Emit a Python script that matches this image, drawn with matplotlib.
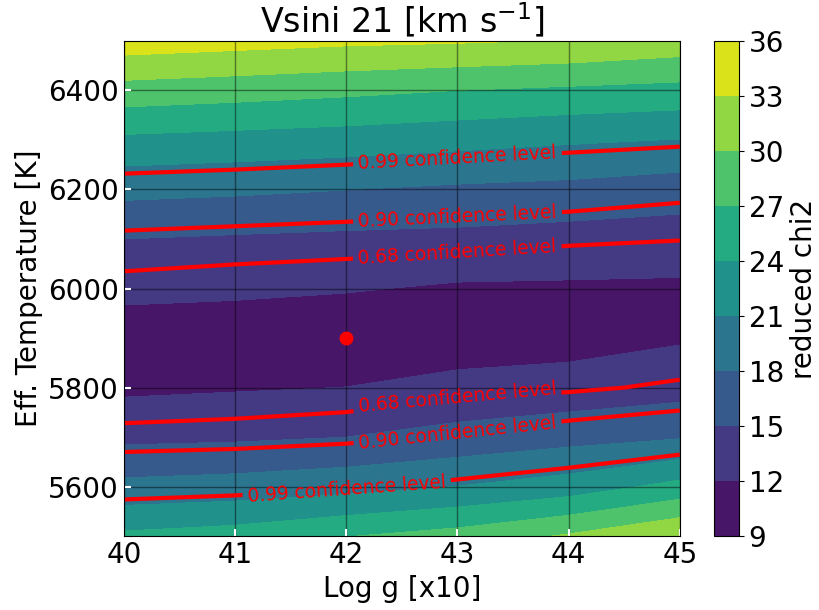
import numpy as np
import matplotlib
matplotlib.use('Agg')
import matplotlib.pyplot as plt

# grid of the fit: log g (x10) columns, effective temperature rows
loggValues = [40, 41, 42, 43, 44, 45]
teffValues = [5500, 5600, 5700, 5800, 5900, 6000, 6100, 6200, 6300, 6400, 6500]

# reduced chi2, one row per temperature
chi2Rows = [
    [24.60, 25.35, 26.90, 28.20, 30.35, 33.00],   # 5500
    [18.80, 19.22, 19.93, 21.05, 22.40, 24.97],   # 5600
    [14.30, 14.53, 15.00, 15.90, 16.89, 17.75],   # 5700
    [11.45, 11.75, 12.03, 12.90, 13.16, 13.84],   # 5800
    [10.60, 10.73, 10.00, 10.40, 10.90, 11.70],   # 5900
    [12.70, 12.40, 12.20, 11.67, 11.62, 11.55],   # 6000
    [15.00, 14.66, 14.38, 14.21, 13.80, 13.56],   # 6100
    [18.85, 18.51, 18.04, 17.52, 17.16, 16.42],   # 6200
    [23.40, 22.98, 22.55, 21.98, 21.39, 20.91],   # 6300
    [28.80, 28.27, 27.66, 27.00, 26.47, 26.00],   # 6400
    [34.70, 34.14, 33.60, 33.30, 32.86, 31.86],   # 6500
]

chi2Levels = [9, 12, 15, 18, 21, 24, 27, 30, 33, 36]
confLevels = [13.5, 15.65, 20.3]
confNames = ['0.68 confidence level', '0.90 confidence level', '0.99 confidence level']

bestLogg = 42
bestTeff = 5900
vsini = 21

# where the labels sit on the red lines
labelSpots = [(43.0, 6265), (43.0, 6150), (43.0, 6070),
              (43.0, 5775), (43.0, 5712), (42.0, 5612)]

X, Y = np.meshgrid(loggValues, teffValues)
Z = np.array(chi2Rows)

plt.rcParams['font.size'] = 20

fig = plt.figure(figsize=(8.2, 6.1), dpi=100)
ax = fig.add_axes([0.151, 0.121, 0.678, 0.812])
cax = fig.add_axes([0.871, 0.121, 0.030, 0.812])

cs = ax.contourf(X, Y, Z, levels=chi2Levels, cmap='viridis')
cl = ax.contour(X, Y, Z, levels=confLevels, colors='red', linewidths=3)
fmt = dict(zip(cl.levels, confNames))
ax.clabel(cl, fmt=fmt, inline=True, fontsize=13.4, colors='red', manual=labelSpots)

ax.plot(bestLogg, bestTeff, 'o', color='red', markersize=9)

ax.set_xlim(40, 45)
ax.set_ylim(5500, 6500)
ax.set_xticks(loggValues)
ax.set_yticks([5600, 5800, 6000, 6200, 6400])
ax.grid(True, color='black', alpha=0.45, linewidth=1)
ax.tick_params(direction='in', color='white', length=5, width=1.5)
ax.set_xlabel('Log g [x10]')
ax.set_ylabel('Eff. Temperature [K]')
ax.set_title('Vsini %d [km s$^{-1}$]' % vsini)

cbar = fig.colorbar(cs, cax=cax)
cbar.set_label('reduced chi2')

fig.savefig('out.png', dpi=100)
